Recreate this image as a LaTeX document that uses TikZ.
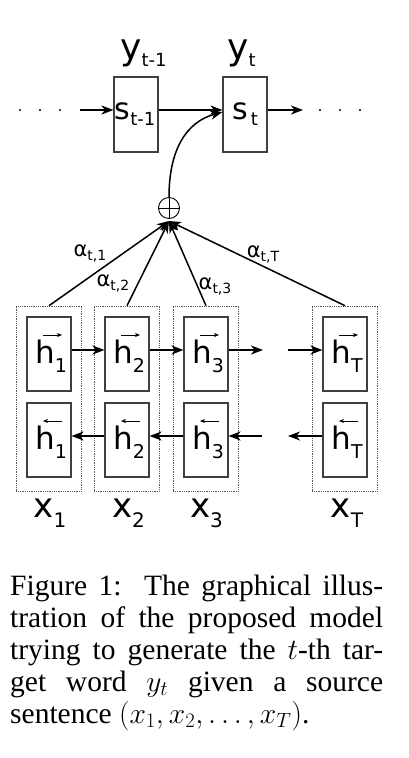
\RequirePackage{fix-cm}
\documentclass[tikz,border=0pt]{standalone}
\usepackage[no-math]{fontspec}
\setmainfont{Liberation Serif}
\newfontfamily\dvs{DejaVu Sans}
\usetikzlibrary{arrows.meta,calc}
\newcommand{\mylab}[5]{{\dvs\fontsize{#1}{#1}\selectfont #2}\raisebox{-#5pt}{\dvs\fontsize{#3}{#3}\selectfont #4}}
\begin{document}
\begin{tikzpicture}[x=1pt,y=-1pt,
  boxc/.style={draw=black!75, line width=1.1pt, minimum width=44pt, minimum height=74pt, inner sep=0pt},
  dbox/.style={draw=black!65, line width=0.6pt, dash pattern=on 0.9pt off 0.9pt, minimum width=65.5pt, minimum height=185pt, inner sep=0pt},
  arr/.style={line width=1.5pt, -{Stealth[length=12pt,width=9pt,inset=3.5pt]}},
  harr/.style={line width=0.7pt, -{Stealth[length=5pt,width=4pt,inset=1.5pt]}},
  lab/.style={anchor=base, inner sep=0pt},
  capbox/.style={anchor=base west, inner sep=0pt, text width=373pt, align=justify, font=\fontsize{29.5}{32}\selectfont}
]
\useasboundingbox (0,0) rectangle (408,758);
\fill[white] (0,0) rectangle (408,758);

% decoder states
\node[boxc, minimum height=75pt] (s1) at (136,114.5) {};
\node[boxc, minimum height=75pt] (s2) at (245,114.5) {};
\node[lab] (ly1) at (143.5,59) {\mylab{36}{y}{18}{t-1}{7}};
\node[lab] (ly2) at (241.5,59) {\mylab{36}{y}{18}{t}{7}};
\node[lab] (ls1) at (135,119) {\mylab{30}{s}{18}{t-1}{6}};
\node[lab] (ls2) at (245,119) {\mylab{30}{s}{18}{\,t}{6}};

\foreach \px in {20,40,60,320,340,360} \fill (\px,110) circle (1.1pt);
\coordinate (lin) at (80,110);
\coordinate (rout) at (303,110);
\draw[arr] (lin) -- ([yshift=4.5pt]s1.west);
\draw[arr] ([yshift=4.5pt]s1.east) -- ([yshift=4.5pt]s2.west);
\draw[arr] ([yshift=4.5pt]s2.east) -- (rout);

% sum
\node[circle, draw, line width=0.9pt, minimum size=21pt, inner sep=0pt] (sum) at (169,208) {};
\draw[line width=0.9pt] (sum.north) -- (sum.south) (sum.west) -- (sum.east);
\draw[arr] (sum.north) .. controls (169,150) and (186,122) .. ([yshift=2.5pt]s2.west);
\coordinate (conv) at (169,221);

% encoder columns
\foreach \n/\cx in {1/49,2/127,3/206,T/345}{
  \node[dbox] (d\n) at (\cx,398.5) {};
  \node[boxc] (f\n) at (\cx,354) {};
  \node[boxc] (b\n) at (\cx,440) {};
  \node[lab] (lf\n) at (\cx+2,363) {\mylab{31}{h}{19}{\n}{9}};
  \node[lab] (lb\n) at (\cx+2,449) {\mylab{31}{h}{19}{\n}{9}};
  \draw[harr] ($(lf\n.base)+(-8,-28)$) -- ($(lf\n.base)+(11,-28)$);
  \draw[harr] ($(lb\n.base)+(11,-28)$) -- ($(lb\n.base)+(-8,-28)$);
  \draw[arr] (d\n.north) -- (conv);
}
\node[lab] (lx1) at (50,517) {\mylab{34}{x}{20}{1}{10}};
\node[lab] (lx2) at (128.5,517) {\mylab{34}{x}{20}{2}{10}};
\node[lab] (lx3) at (206.5,517) {\mylab{34}{x}{20}{3}{10}};
\node[lab] (lxT) at (347,517) {\mylab{34}{x}{20}{T}{10}};

% recurrences
\coordinate (fo) at (263,350);
\coordinate (fi) at (288,350);
\coordinate (bo) at (262,436);
\coordinate (bi) at (288,436);
\draw[arr] ([yshift=4pt]f1.east) -- ([yshift=4pt]f2.west);
\draw[arr] ([yshift=4pt]f2.east) -- ([yshift=4pt]f3.west);
\draw[arr] ([yshift=4pt]f3.east) -- (fo);
\draw[arr] (fi) -- ([yshift=4pt]fT.west);
\draw[arr] ([yshift=4pt]b2.west) -- ([yshift=4pt]b1.east);
\draw[arr] ([yshift=4pt]b3.west) -- ([yshift=4pt]b2.east);
\draw[arr] (bo) -- ([yshift=4pt]b3.east);
\draw[arr] ([yshift=4pt]bT.west) -- (bi);

% attention weights
\node[lab, anchor=center] (a1) at (90,253) {\mylab{21}{α}{14}{t,1}{4}};
\node[lab, anchor=center] (a2) at (113,283) {\mylab{21}{α}{14}{t,2}{4}};
\node[lab, anchor=center] (a3) at (215,286) {\mylab{21}{α}{14}{t,3}{4}};
\node[lab, anchor=center] (aT) at (263,254) {\mylab{21}{α}{14}{t,T}{4}};

% caption
\node[capbox] (caption) at (10,595) {Figure 1:\ \ The graphical illus-\linebreak tration of the proposed model trying to generate the $t$-th tar-\linebreak get word $y_t$ given a source\linebreak sentence $(x_1, x_2, \ldots, x_T)$.};
\end{tikzpicture}
\end{document}
